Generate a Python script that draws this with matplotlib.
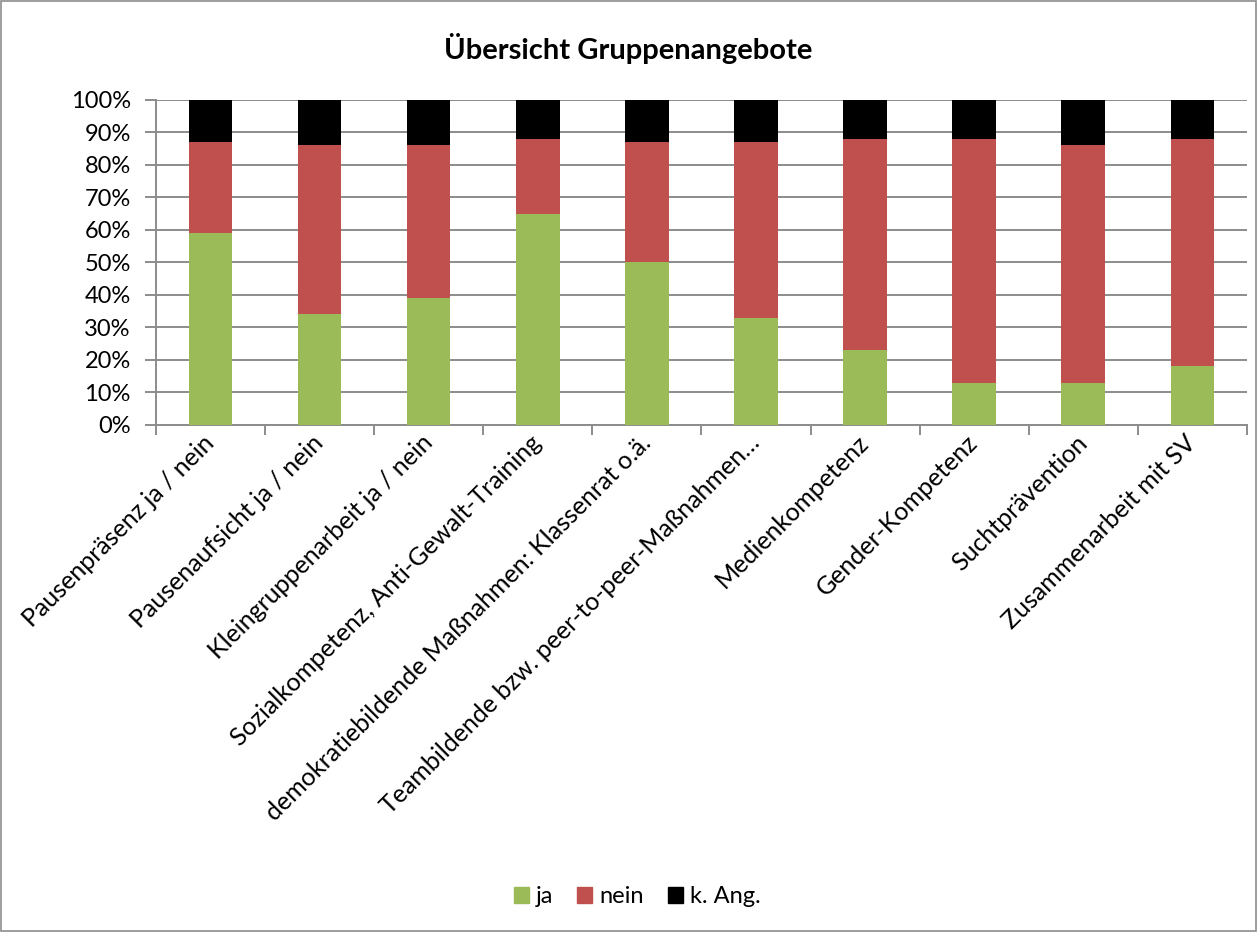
import matplotlib.pyplot as plt
import matplotlib.transforms as mtrans
from matplotlib.patches import Patch, Rectangle
from matplotlib.ticker import MultipleLocator, FixedLocator, PercentFormatter

plt.rcParams['font.family'] = ['Lato', 'DejaVu Sans']

categories = [
    "Pausenpräsenz ja / nein", "Pausenaufsicht ja / nein", "Kleingruppenarbeit ja / nein",
    "Sozialkompetenz, Anti-Gewalt-Training", "demokratiebildende Maßnahmen: Klassenrat o.ä.",
    "Teambildende bzw. peer-to-peer-Maßnahmen…", "Medienkompetenz", "Gender-Kompetenz",
    "Suchtprävention", "Zusammenarbeit mit SV",
]
ja = [59, 34, 39, 65, 50, 33, 23, 13, 13, 18]
nein = [28, 52, 47, 23, 37, 54, 65, 75, 73, 70]
k_ang = [13, 14, 14, 12, 13, 13, 12, 12, 14, 12]

col_ja, col_nein, col_k = "#9BBB59", "#C0504D", "#000000"

fig = plt.figure(figsize=(12.57, 9.32), dpi=100)
ax = fig.add_axes([0.124, 0.544, 0.868, 0.349])

x = range(len(categories))
bottom2 = [a + b for a, b in zip(ja, nein)]
ax.bar(x, ja, width=0.4, color=col_ja, zorder=3)
ax.bar(x, nein, width=0.4, bottom=ja, color=col_nein, zorder=3)
ax.bar(x, k_ang, width=0.4, bottom=bottom2, color=col_k, zorder=3)

ax.set_xlim(-0.5, len(categories) - 0.5)
ax.set_ylim(0, 100)
ax.yaxis.set_major_locator(MultipleLocator(10))
ax.yaxis.set_major_formatter(PercentFormatter(decimals=0))
ax.grid(axis='y', color='#8C8C8C', linewidth=1.4, zorder=0)

ax.set_xticks(list(x))
ax.set_xticklabels(categories, rotation=45, ha='right', va='center',
                   rotation_mode='anchor', fontsize=18)
# shift labels slightly right so their ends sit just past the bar centres
shift = mtrans.ScaledTranslation(0.22, -0.02, fig.dpi_scale_trans)
for lbl in ax.get_xticklabels():
    lbl.set_transform(lbl.get_transform() + shift)
ax.tick_params(axis='x', which='major', length=0, pad=10)
ax.xaxis.set_minor_locator(FixedLocator([i - 0.5 for i in range(len(categories) + 1)]))
ax.tick_params(axis='x', which='minor', length=7, color='#8C8C8C', width=1.4)
ax.tick_params(axis='y', labelsize=17, length=8, color='#8C8C8C', width=1.4, pad=10)

for side in ['top', 'right']:
    ax.spines[side].set_visible(False)
for side in ['left', 'bottom']:
    ax.spines[side].set_color('#8C8C8C')
    ax.spines[side].set_linewidth(1.4)

fig.text(0.5, 0.948, "Übersicht Gruppenangebote", ha='center', va='center',
         fontsize=21, fontweight='bold')

handles = [Patch(color=col_ja, label='ja'), Patch(color=col_nein, label='nein'),
           Patch(color=col_k, label='k. Ang.')]
fig.legend(handles=handles, loc='center', bbox_to_anchor=(0.507, 0.038), ncol=3,
           frameon=False, fontsize=17, handlelength=0.65, handleheight=0.65,
           handletextpad=0.3, columnspacing=1.0)

fig.patches.append(Rectangle((0.001, 0.001), 0.998, 0.998, transform=fig.transFigure,
                             fill=False, edgecolor='#8C8C8C', linewidth=1.2))

fig.savefig("out.png", dpi=100)
